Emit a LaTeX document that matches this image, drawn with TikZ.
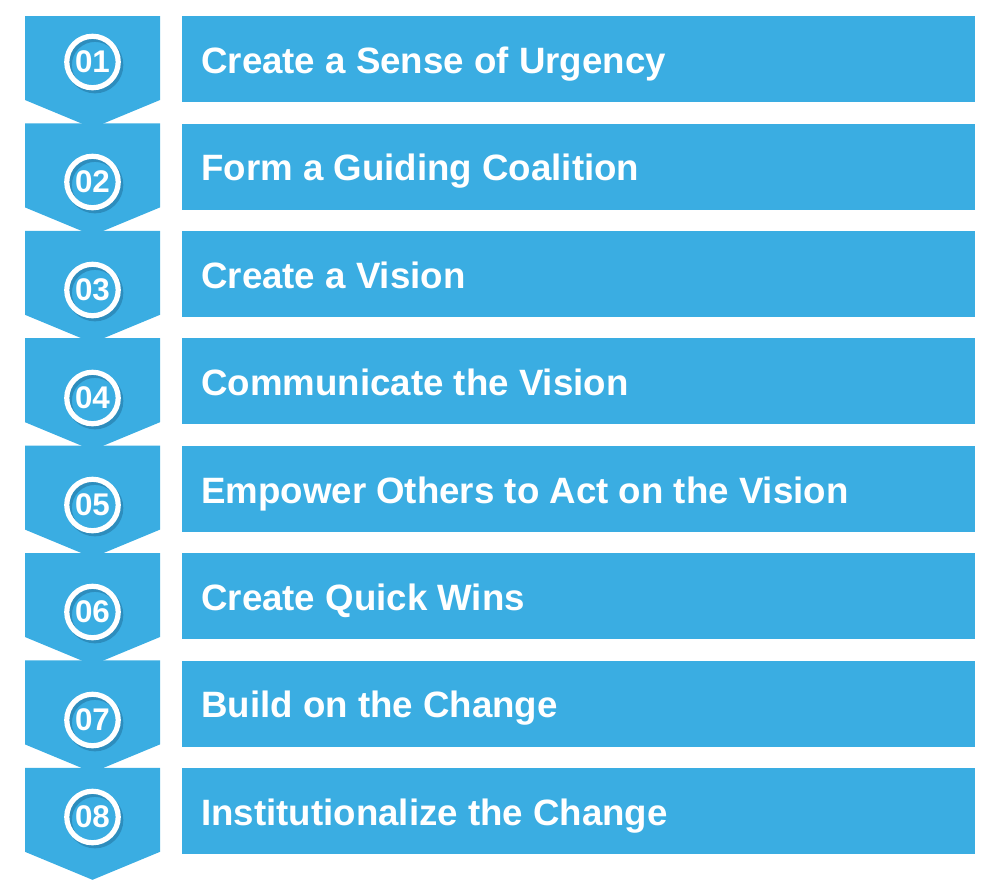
\documentclass[tikz,border=0pt]{standalone}
\usepackage{fontspec}
\setmainfont{Liberation Sans}
\definecolor{stepblue}{HTML}{3AADE2}
\definecolor{stepshade}{HTML}{1B5F86}
\begin{document}
\begin{tikzpicture}[x=0.75pt,y=-0.75pt]
\tikzstyle{chev}=[fill=stepblue]
\tikzstyle{stepbox}=[fill=stepblue,inner sep=0pt,minimum width=594.75pt,minimum height=64.5pt]
\tikzstyle{steptext}=[text=white,inner sep=0pt,font=\fontsize{27.5pt}{30pt}\selectfont\bfseries]
\tikzstyle{ring}=[circle,draw=white,line width=3.9pt,minimum size=38.6pt,inner sep=0pt,
  text=white,font=\fontsize{23.5pt}{25pt}\selectfont\bfseries]
\tikzstyle{ringshade}=[circle,draw=stepshade,line width=3.9pt,minimum size=38.6pt,opacity=.4]
\useasboundingbox (0,0) rectangle (998,886);
\foreach \i/\c/\n/\t in {0/62/01/Create a Sense of Urgency,1/182/02/Form a Guiding Coalition,
    2/290/03/Create a Vision,3/398/04/Communicate the Vision,
    4/505/05/Empower Others to Act on the Vision,5/612/06/Create Quick Wins,
    6/720/07/Build on the Change,7/817/08/Institutionalize the Change}{
  \pgfmathsetmacro\top{16+107.4*\i}
  % chevron on the left
  \fill[chev] (25,\top) -- (160,\top) -- (160,\top+84) -- (92.5,\top+112)
    -- (25,\top+84) -- cycle;
  \node[stepbox,anchor=north west] (box\i) at (182,\top) {};
  \node[steptext,anchor=base west] (txt\i) at (201,\top+57.5) {\t};
  \node[ringshade] (shade\i) at (95,\c+3) {};
  \node[ring] (num\i) at (92.5,\c) {\n};
}
\end{tikzpicture}
\end{document}
